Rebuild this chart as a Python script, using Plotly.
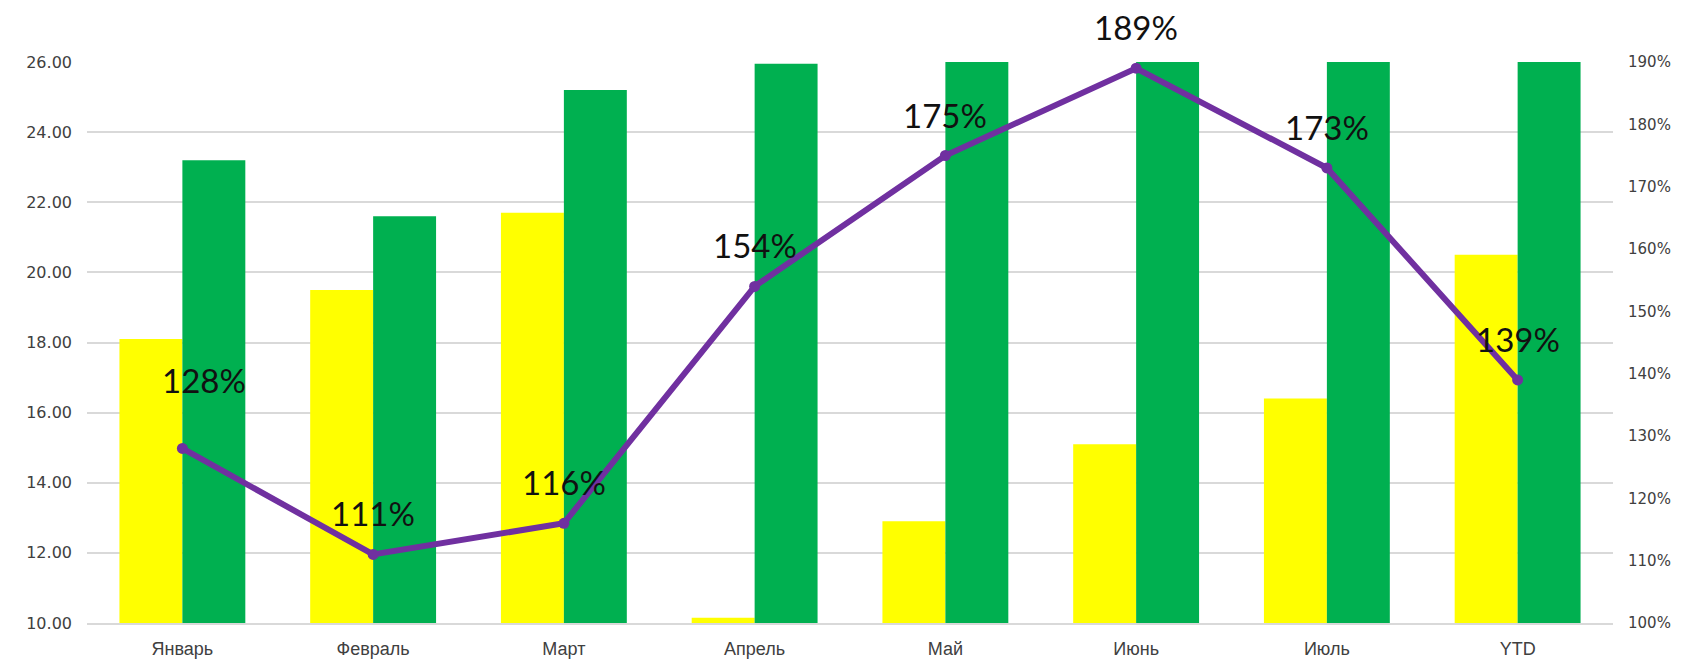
import plotly.graph_objects as go

categories = ["Январь", "Февраль", "Март", "Апрель", "Май", "Июнь", "Июль", "YTD"]
yellow_values = [18.1, 19.5, 21.7, 10.15, 12.9, 15.1, 16.4, 20.5]
green_values = [23.2, 21.6, 25.2, 25.95, 27.5, 28.0, 27.8, 28.5]
ratio_values = [1.28, 1.11, 1.16, 1.54, 1.75, 1.89, 1.73, 1.39]
ratio_labels = ["128%", "111%", "116%", "154%", "175%", "189%", "173%", "139%"]

left_ticks = [10, 12, 14, 16, 18, 20, 22, 24, 26]
right_ticks = [1.0, 1.1, 1.2, 1.3, 1.4, 1.5, 1.6, 1.7, 1.8, 1.9]

fig = go.Figure()
fig.add_trace(go.Bar(x=categories, y=yellow_values, marker=dict(color="#FFFF00", line=dict(width=0)), name="A"))
fig.add_trace(go.Bar(x=categories, y=green_values, marker=dict(color="#00B050", line=dict(width=0)), name="B"))
fig.add_trace(go.Scatter(x=categories, y=ratio_values, yaxis="y2", mode="lines+markers",
                         line=dict(color="#7030A0", width=6),
                         marker=dict(color="#7030A0", size=11), name="C"))

label_shifts = [(22, 68)] + [(0, 41)] * 7
for c, v, t, (dx, dy) in zip(categories, ratio_values, ratio_labels, label_shifts):
    fig.add_annotation(x=c, y=v, yref="y2", text=t, showarrow=False,
                       xshift=dx, yshift=dy,
                       font=dict(family="Lato, Liberation Sans, sans-serif", size=33, color="#111111"))

fig.update_layout(
    width=1700, height=665,
    margin=dict(l=87, r=87, t=62, b=42, autoexpand=False),
    paper_bgcolor="white", plot_bgcolor="white",
    barmode="group", bargap=0.34, bargroupgap=0,
    showlegend=False,
    xaxis=dict(showgrid=False, showline=True, linecolor="#D9D9D9", linewidth=2, automargin=False,
               tickfont=dict(family="Liberation Sans, Arial, sans-serif", size=18, color="#404040"),
               ticklabelstandoff=8),
    yaxis=dict(range=[10, 26], tickvals=left_ticks, tickformat=".2f", automargin=False,
               showgrid=True, gridcolor="#D9D9D9", gridwidth=2, zeroline=False,
               tickfont=dict(family="DejaVu Sans, sans-serif", size=16, color="#404040"),
               ticklabelstandoff=14),
    yaxis2=dict(range=[1.0, 1.9], tickvals=right_ticks, tickformat=".0%", automargin=False,
                overlaying="y", side="right", showgrid=False, zeroline=False,
                tickfont=dict(family="DejaVu Sans, sans-serif", size=15, color="#404040"),
                ticklabelstandoff=14),
)

fig.write_html("out.html")
